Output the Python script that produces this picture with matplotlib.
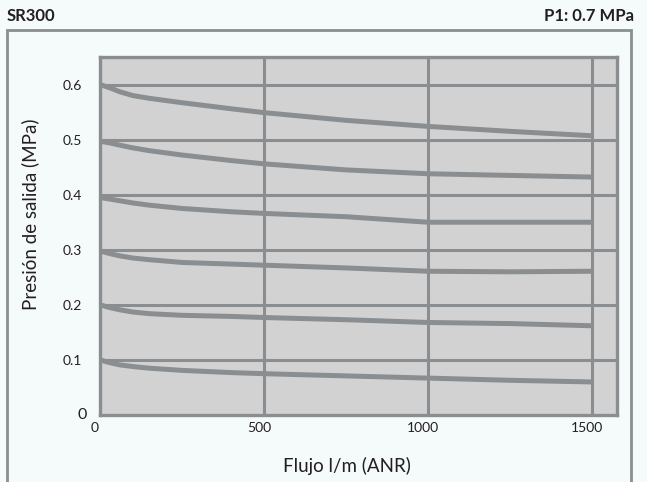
import matplotlib
matplotlib.use("Agg")
import matplotlib.pyplot as plt
import matplotlib.patches as mpatches
import matplotlib.transforms as mtrans
import numpy as np

plt.rcParams['font.family'] = ['Lato', 'DejaVu Sans']

# Data (flow l/min, outlet pressure MPa)
flow = [0, 30, 60, 100, 150, 250, 400, 500, 750, 1000, 1250, 1500]
p06 = [0.600, 0.594, 0.587, 0.580, 0.575, 0.567, 0.556, 0.549, 0.535, 0.524, 0.515, 0.507]
p05 = [0.497, 0.494, 0.490, 0.485, 0.480, 0.472, 0.462, 0.456, 0.445, 0.438, 0.435, 0.432]
p04 = [0.395, 0.392, 0.389, 0.385, 0.381, 0.375, 0.369, 0.366, 0.360, 0.350, 0.350, 0.350]
p03 = [0.298, 0.293, 0.289, 0.285, 0.282, 0.277, 0.274, 0.272, 0.267, 0.261, 0.260, 0.261]
p02 = [0.200, 0.195, 0.191, 0.187, 0.184, 0.181, 0.179, 0.177, 0.173, 0.168, 0.166, 0.162]
p01 = [0.100, 0.095, 0.091, 0.088, 0.085, 0.081, 0.077, 0.075, 0.071, 0.067, 0.063, 0.060]
series = [p06, p05, p04, p03, p02, p01]

xticks = [0, 500, 1000, 1500]
xticklabels = ['0', '500', '1000', '1500']
yticks = [0.1, 0.2, 0.3, 0.4, 0.5, 0.6]
yticklabels = ['0.1', '0.2', '0.3', '0.4', '0.5', '0.6']

title_left = 'SR300'
title_right = 'P1: 0.7 MPa'
xlabel = 'Flujo l/m (ANR)'
ylabel = 'Presión de salida (MPa)'

W, H = 647, 482
bg = '#f5fafa'
gray = '#8b8e90'
face = '#d2d2d2'
txt = '#231f20'

fig = plt.figure(figsize=(W / 100, H / 100), dpi=100, facecolor=bg)

# outer frame
frame = mpatches.Rectangle((7 / W, -0.05), (631 - 7) / W, 1.05 - 30 / H,
                           transform=fig.transFigure, fill=False,
                           edgecolor=gray, linewidth=2.0)
fig.patches.append(frame)

ax = fig.add_axes([100 / W, (H - 415) / H, (617 - 100) / W, (415 - 57) / H])
ax.set_facecolor(face)
ax.set_xlim(0, 1576)
ax.set_ylim(0, 0.65)

for v in xticks[1:]:
    ax.axvline(v, color=gray, lw=2.2, zorder=1)
for v in yticks:
    ax.axhline(v, color=gray, lw=2.2, zorder=1)

for s in series:
    ax.plot(flow, s, color=gray, lw=3.6, solid_capstyle='butt',
            solid_joinstyle='round', zorder=2)

for sp in ax.spines.values():
    sp.set_color(gray)
    sp.set_linewidth(2.4)

ax.set_xticks(xticks)
ax.set_xticklabels(xticklabels)
ax.set_yticks(yticks)
ax.set_yticklabels(yticklabels)
ax.tick_params(axis='both', length=0, labelsize=10, colors=txt)
ax.tick_params(axis='y', pad=13)
ax.tick_params(axis='x', pad=5)
for lbl in ax.get_xticklabels():
    lbl.set_transform(lbl.get_transform() + mtrans.ScaledTranslation(-5 / 100, 0, fig.dpi_scale_trans))

# separate zero label of the y axis
ax.text(-0.025, 0.0, '0', transform=ax.transAxes, ha='right', va='center',
        fontsize=11.5, color=txt)

ax.set_xlabel(xlabel, fontsize=13.5, color=txt)
ax.xaxis.set_label_coords(0.478, -0.118)
ax.set_ylabel(ylabel, fontsize=13.5, color=txt)
ax.yaxis.set_label_coords(-0.117, 0.56)

fig.text(7 / W, 1 - 16 / H, title_left, fontsize=12, fontweight='bold',
         ha='left', va='center', color=txt)
fig.text(634 / W, 1 - 16 / H, title_right, fontsize=12, fontweight='bold',
         ha='right', va='center', color=txt)

fig.savefig('out.png', dpi=100, facecolor=bg)
